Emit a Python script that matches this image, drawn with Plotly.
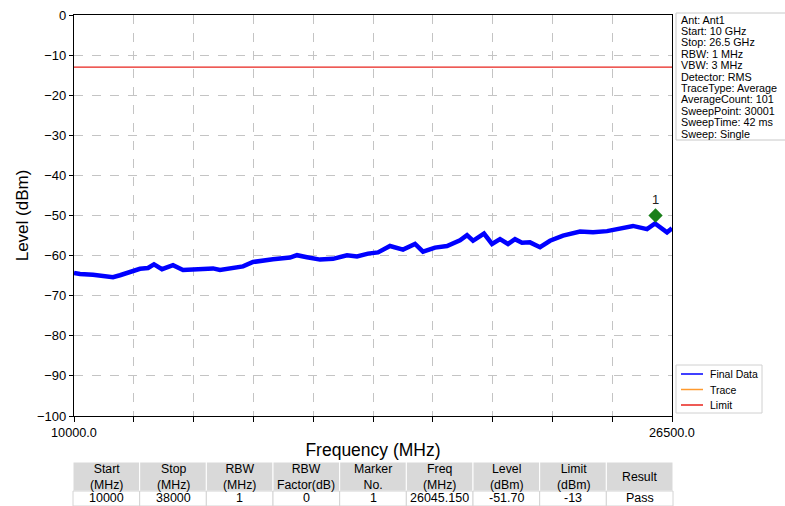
import plotly.graph_objects as go

# ---- data ----
freq_mhz = [10000, 10165, 10524, 10855, 11076, 11269, 11462, 11821, 12042, 12207,
            12428, 12732, 13008, 13477, 13836, 14028, 14304, 14663, 14939, 15215,
            15491, 15960, 16153, 16429, 16788, 17147, 17533, 17809, 18113, 18388,
            18719, 19078, 19410, 19630, 19961, 20292, 20651, 20844, 21010, 21313,
            21534, 21755, 21975, 22168, 22361, 22582, 22858, 23134, 23493, 23962,
            24321, 24707, 25065, 25424, 25811, 26031, 26362, 26500]
level_dbm = [-64.3, -64.6, -64.8, -65.0, -65.4, -64.9, -64.4, -63.3, -63.1, -62.2,
             -63.4, -62.4, -63.6, -63.3, -63.2, -63.6, -63.2, -62.7, -61.6, -61.2,
             -60.9, -60.5, -59.9, -60.4, -61.0, -60.8, -59.9, -60.2, -59.5, -59.2,
             -57.6, -58.5, -57.1, -59.0, -58.0, -57.6, -56.2, -54.9, -56.3, -54.5,
             -57.1, -55.9, -57.1, -55.9, -56.8, -56.7, -57.9, -56.3, -55.0, -54.0,
             -54.2, -53.9, -53.3, -52.6, -53.4, -52.0, -54.2, -53.2]
limit_dbm = -13
x_range = [10000.0, 26500.0]
x_tick_vals = [10000 + 1650 * k for k in range(11)]
x_tick_text = ["10000.0"] + [""] * 9 + ["26500.0"]
y_tick_vals = list(range(0, -101, -10))
marker_freq = 26045.150
marker_plot_level = -50.0
marker_label = "1"

legend_names = ["Final Data", "Trace", "Limit"]
legend_colors = ["#0000ff", "#ff9a2e", "#e8231c"]

info_lines = ["Ant: Ant1", "Start: 10 GHz", "Stop: 26.5 GHz", "RBW: 1 MHz", "VBW: 3 MHz",
              "Detector: RMS", "TraceType: Average", "AverageCount: 101",
              "SweepPoint: 30001", "SweepTime: 42 ms", "Sweep: Single"]

table_header = ["Start<br>(MHz)", "Stop<br>(MHz)", "RBW<br>(MHz)", "RBW<br>Factor(dB)",
                "Marker<br>No.", "Freq<br>(MHz)", "Level<br>(dBm)", "Limit<br>(dBm)", "Result"]
table_row = ["10000", "38000", "1", "0", "1", "26045.150", "-51.70", "-13", "Pass"]

FONT = "Liberation Sans, Arial, sans-serif"

# layout geometry (pixels of the 785x506 page)
W, H = 785, 506
PL, PR, PT, PB = 74, 672, 15, 416


def xp(px):
    return (px - PL) / (PR - PL)


def yp(py):
    return (PB - py) / (PB - PT)


fig = go.Figure()
fig.add_trace(go.Scatter(x=freq_mhz, y=level_dbm, mode="lines", name=legend_names[0],
                         line=dict(color=legend_colors[0], width=4.5), showlegend=False))
fig.add_trace(go.Scatter(x=x_range, y=[limit_dbm, limit_dbm], mode="lines", name=legend_names[2],
                         line=dict(color=legend_colors[2], width=1.3), showlegend=False))
fig.add_trace(go.Scatter(x=[marker_freq], y=[marker_plot_level], mode="markers+text",
                         text=[marker_label], textposition="top center",
                         textfont=dict(size=13, color="#222", family=FONT),
                         marker=dict(symbol="diamond", size=11, color="#1a7f1a"),
                         showlegend=False))

shapes = []
annotations = []

# info box
shapes.append(dict(type="rect", xref="paper", yref="paper",
                   x0=xp(676), x1=xp(800), y0=yp(140), y1=yp(13),
                   line=dict(color="#c8c8c8", width=1), fillcolor="white", layer="above"))
for i, t in enumerate(info_lines):
    annotations.append(dict(xref="paper", yref="paper", x=xp(678.5), y=yp(19.5 + 11.4 * i),
                            xanchor="left", yanchor="middle", showarrow=False, text=t,
                            font=dict(size=10.8, family=FONT, color="black")))

# legend box
shapes.append(dict(type="rect", xref="paper", yref="paper",
                   x0=xp(676), x1=xp(762), y0=yp(413), y1=yp(365),
                   line=dict(color="#d0d0d0", width=1), fillcolor="white", layer="above"))
for i, (nm, col) in enumerate(zip(legend_names, legend_colors)):
    ypos = yp(374 + 15.5 * i)
    shapes.append(dict(type="line", xref="paper", yref="paper", x0=xp(681), x1=xp(703),
                       y0=ypos, y1=ypos, line=dict(color=col, width=1.5), layer="above"))
    annotations.append(dict(xref="paper", yref="paper", x=xp(708), y=ypos, xanchor="left",
                            yanchor="middle", showarrow=False, text=nm,
                            font=dict(size=10.5, family=FONT, color="black")))

# table
tx0, tx1 = 73, 673
hy0, hy1, ry1 = 462, 491, 506
cw = (tx1 - tx0) / len(table_row)
for j, (hdr, val) in enumerate(zip(table_header, table_row)):
    cx0 = tx0 + j * cw
    cx1 = cx0 + cw
    shapes.append(dict(type="rect", xref="paper", yref="paper", x0=xp(cx0), x1=xp(cx1),
                       y0=yp(hy1), y1=yp(hy0), fillcolor="#d9d9d9",
                       line=dict(color="white", width=1), layer="above"))
    shapes.append(dict(type="rect", xref="paper", yref="paper", x0=xp(cx0), x1=xp(cx1),
                       y0=yp(ry1), y1=yp(hy1), fillcolor="white",
                       line=dict(color="#d4d4d4", width=1), layer="above"))
    cxm = xp((cx0 + cx1) / 2)
    annotations.append(dict(xref="paper", yref="paper", x=cxm, y=yp(476.5),
                            xanchor="center", yanchor="middle", showarrow=False,
                            text=hdr, font=dict(size=12.3, family=FONT, color="black")))
    annotations.append(dict(xref="paper", yref="paper", x=cxm, y=yp(498),
                            xanchor="center", yanchor="middle", showarrow=False,
                            text=val, font=dict(size=12.5, family=FONT, color="black")))

fig.update_layout(
    width=W, height=H,
    margin=dict(l=PL, r=W - PR, t=PT, b=H - PB, autoexpand=False),
    paper_bgcolor="white", plot_bgcolor="white",
    font=dict(family=FONT, color="black"),
    showlegend=False,
    xaxis=dict(range=x_range, tickvals=x_tick_vals, ticktext=x_tick_text,
               ticks="outside", ticklen=5, tickcolor="black", automargin=False,
               showline=True, linecolor="black", linewidth=1.3, mirror=True,
               showgrid=True, gridcolor="#c4c4c4", griddash="dash", gridwidth=1,
               zeroline=False, tickfont=dict(size=12.7),
               title=dict(text="Frequency (MHz)", font=dict(size=17.5), standoff=4)),
    yaxis=dict(range=[-100, 0], tickvals=y_tick_vals,
               ticks="outside", ticklen=4, tickcolor="black", automargin=False,
               showline=True, linecolor="black", linewidth=1.3, mirror=True,
               showgrid=True, gridcolor="#c4c4c4", griddash="dash", gridwidth=1,
               zeroline=False, tickfont=dict(size=13),
               title=dict(text="Level (dBm)", font=dict(size=17), standoff=4)),
    shapes=shapes,
    annotations=annotations,
)

fig.write_html("out.html", config={"displayModeBar": False},
               post_script="document.body.style.margin='0';")
